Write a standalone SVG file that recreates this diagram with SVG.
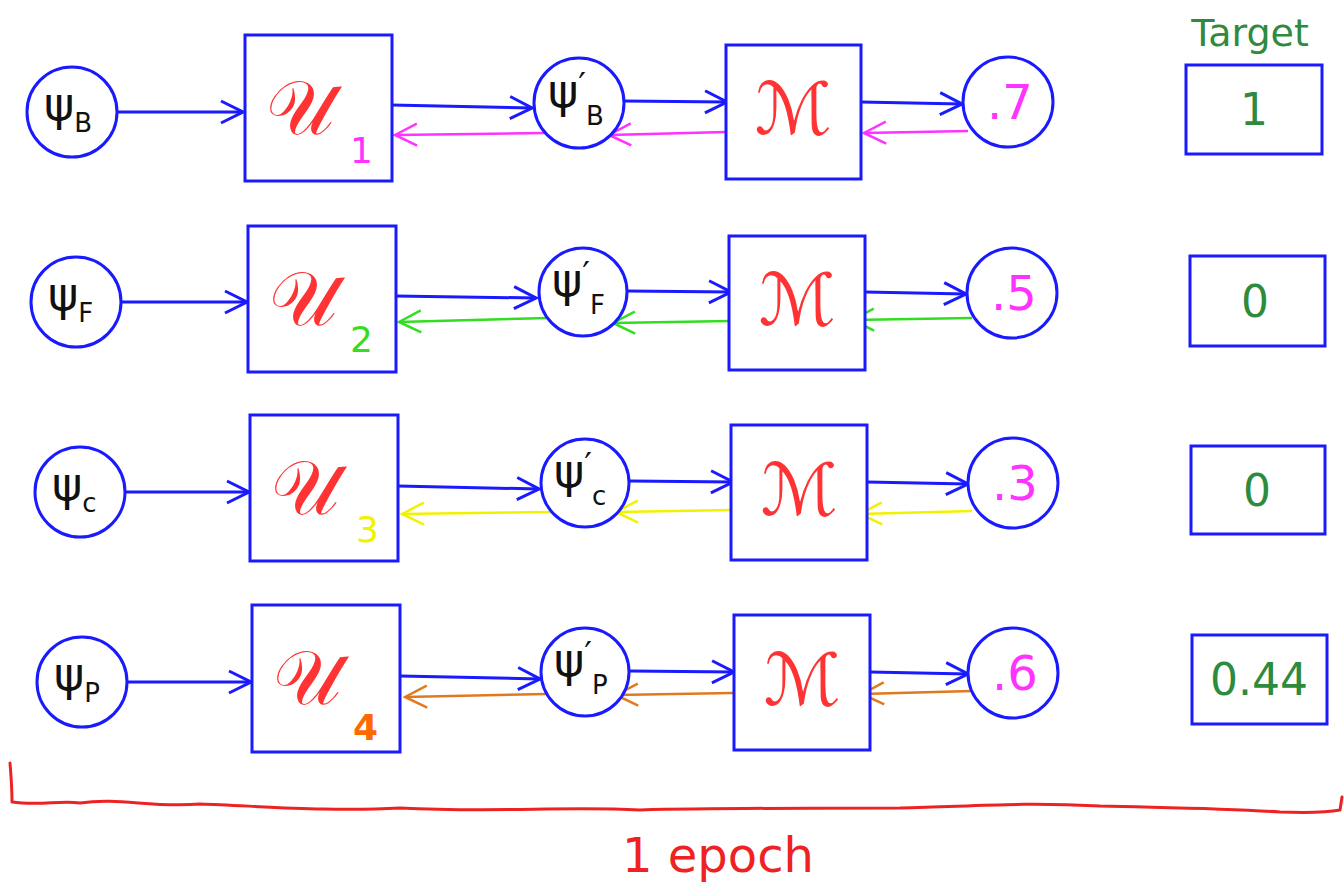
<svg xmlns="http://www.w3.org/2000/svg" width="1344" height="887" viewBox="0 0 1344 887">
<defs>
<style>
.node{fill:#fff;stroke:#1a1aff;stroke-width:3}
.tbox{fill:#fff;stroke:#1a1aff;stroke-width:3}
.psi{font-family:"DejaVu Sans",sans-serif;font-size:46px;fill:#111}
.sub{font-size:26px}
.pr{font-size:34px}
.U{font-family:"DejaVu Serif","DejaVu Sans",serif;font-size:76px;fill:#ff3333}
.M{font-family:"DejaVu Sans",serif;font-size:72px;fill:#ff3333;font-style:italic}
.idx{font-family:"DejaVu Sans",sans-serif;font-size:36px}
.val{font-family:"DejaVu Sans",sans-serif;font-size:48px;fill:#ff33ff}
.tgt{font-family:"DejaVu Sans",sans-serif;font-size:44px;fill:#2e8b3e}
.fw{fill:none;stroke:#1a1aff;stroke-width:3}
.bw{fill:none;stroke-width:2.5}
</style>
<marker id="hb" viewBox="0 0 26 26" markerWidth="26" markerHeight="26" refX="24" refY="13" orient="auto" markerUnits="userSpaceOnUse"><path d="M2,2 L24,13 L2,24" fill="none" stroke="#1a1aff" stroke-width="3"/></marker>
<marker id="hm" viewBox="0 0 26 26" markerWidth="26" markerHeight="26" refX="24" refY="13" orient="auto" markerUnits="userSpaceOnUse"><path d="M2,2 L24,13 L2,24" fill="none" stroke="#ff33ff" stroke-width="2.5"/></marker>
<marker id="hg" viewBox="0 0 26 26" markerWidth="26" markerHeight="26" refX="24" refY="13" orient="auto" markerUnits="userSpaceOnUse"><path d="M2,2 L24,13 L2,24" fill="none" stroke="#33dd22" stroke-width="2.5"/></marker>
<marker id="hy" viewBox="0 0 26 26" markerWidth="26" markerHeight="26" refX="24" refY="13" orient="auto" markerUnits="userSpaceOnUse"><path d="M2,2 L24,13 L2,24" fill="none" stroke="#f2f200" stroke-width="2.5"/></marker>
<marker id="ho" viewBox="0 0 26 26" markerWidth="26" markerHeight="26" refX="24" refY="13" orient="auto" markerUnits="userSpaceOnUse"><path d="M2,2 L24,13 L2,24" fill="none" stroke="#e07a1f" stroke-width="2.5"/></marker>
</defs>
<rect width="1344" height="887" fill="#fff"/>

<g id="connectors">
<path class="fw" marker-end="url(#hb)" d="M117,112 L243,112"/>
<path class="fw" marker-end="url(#hb)" d="M391,105 L532,108"/>
<path class="fw" marker-end="url(#hb)" d="M623,101 L727,102"/>
<path class="fw" marker-end="url(#hb)" d="M861,102 L962,104"/>
<path class="bw" stroke="#ff33ff" marker-end="url(#hm)" d="M545,133 L395,135"/>
<path class="bw" stroke="#ff33ff" marker-end="url(#hm)" d="M726,132 L609,135"/>
<path class="bw" stroke="#ff33ff" marker-end="url(#hm)" d="M968,131 L864,133"/>
<path class="fw" marker-end="url(#hb)" d="M121,302 L247,302"/>
<path class="fw" marker-end="url(#hb)" d="M395,296 L536,298"/>
<path class="fw" marker-end="url(#hb)" d="M627,291 L731,292"/>
<path class="fw" marker-end="url(#hb)" d="M865,292 L966,294"/>
<path class="bw" stroke="#33dd22" marker-end="url(#hg)" d="M549,318 L399,322"/>
<path class="bw" stroke="#33dd22" marker-end="url(#hg)" d="M730,321 L613,323"/>
<path class="bw" stroke="#33dd22" marker-end="url(#hg)" d="M972,318 L852,320"/>
<path class="fw" marker-end="url(#hb)" d="M125,492 L249,492"/>
<path class="fw" marker-end="url(#hb)" d="M398,486 L539,489"/>
<path class="fw" marker-end="url(#hb)" d="M630,481 L733,482"/>
<path class="fw" marker-end="url(#hb)" d="M867,482 L968,484"/>
<path class="bw" stroke="#f2f200" marker-end="url(#hy)" d="M552,512 L402,514"/>
<path class="bw" stroke="#f2f200" marker-end="url(#hy)" d="M733,510 L616,512"/>
<path class="bw" stroke="#f2f200" marker-end="url(#hy)" d="M972,511 L860,514"/>
<path class="fw" marker-end="url(#hb)" d="M127,682 L251,682"/>
<path class="fw" marker-end="url(#hb)" d="M400,676 L540,679"/>
<path class="fw" marker-end="url(#hb)" d="M630,671 L734,672"/>
<path class="fw" marker-end="url(#hb)" d="M870,672 L968,674"/>
<path class="bw" stroke="#e07a1f" marker-end="url(#ho)" d="M547,694 L405,697"/>
<path class="bw" stroke="#e07a1f" marker-end="url(#ho)" d="M733,693 L616,695"/>
<path class="bw" stroke="#e07a1f" marker-end="url(#ho)" d="M972,691 L862,694"/>
</g>

<g id="psiB"><circle class="node" cx="72" cy="112" r="45"/><text class="psi" x="44" y="120">ψ<tspan class="sub" dy="12">B</tspan></text></g>
<g id="U1"><rect class="node" x="245" y="35" width="147" height="146"/><text class="U" x="266" y="134">𝒰</text><text class="idx" x="350" y="163" fill="#ff33ff">1</text></g>
<g id="psiB2"><circle class="node" cx="579" cy="103" r="45"/><text class="psi" x="548" y="107">ψ<tspan class="pr" dy="-10">′</tspan><tspan class="sub" dy="28">B</tspan></text></g>
<g id="M1"><rect class="node" x="726" y="45" width="135" height="134"/><text class="M" x="793" y="134" text-anchor="middle">ℳ</text></g>
<g id="out1"><circle class="node" cx="1008" cy="102" r="45"/><text class="val" x="1010" y="119" text-anchor="middle">.7</text></g>
<g id="T1"><rect class="tbox" x="1186" y="65" width="136" height="89"/><text class="tgt" x="1254" y="125" text-anchor="middle">1</text></g>
<text x="1250" y="46" font-family="DejaVu Sans, sans-serif" font-size="38" fill="#2e8b3e" text-anchor="middle">Target</text>

<g id="psiF"><circle class="node" cx="76" cy="302" r="45"/><text class="psi" x="48" y="310">ψ<tspan class="sub" dy="12">F</tspan></text></g>
<g id="U2"><rect class="node" x="248" y="226" width="148" height="146"/><text class="U" x="269" y="325">𝒰</text><text class="idx" x="350" y="352" fill="#33dd22">2</text></g>
<g id="psiF2"><circle class="node" cx="583" cy="292" r="44"/><text class="psi" x="552" y="296">ψ<tspan class="pr" dy="-10">′</tspan><tspan class="sub" dy="28">F</tspan></text></g>
<g id="M2"><rect class="node" x="729" y="236" width="136" height="134"/><text class="M" x="797" y="325" text-anchor="middle">ℳ</text></g>
<g id="out2"><circle class="node" cx="1012" cy="293" r="45"/><text class="val" x="1014" y="310" text-anchor="middle">.5</text></g>
<g id="T2"><rect class="tbox" x="1190" y="256" width="135" height="90"/><text class="tgt" x="1255" y="317" text-anchor="middle">0</text></g>

<g id="psiC"><circle class="node" cx="80" cy="492" r="45"/><text class="psi" x="52" y="500">ψ<tspan class="sub" dy="12">c</tspan></text></g>
<g id="U3"><rect class="node" x="250" y="415" width="148" height="146"/><text class="U" x="271" y="514">𝒰</text><text class="idx" x="356" y="542" fill="#f2f200">3</text></g>
<g id="psiC2"><circle class="node" cx="585" cy="483" r="44"/><text class="psi" x="554" y="487">ψ<tspan class="pr" dy="-10">′</tspan><tspan class="sub" dy="28">c</tspan></text></g>
<g id="M3"><rect class="node" x="731" y="425" width="136" height="135"/><text class="M" x="799" y="515" text-anchor="middle">ℳ</text></g>
<g id="out3"><circle class="node" cx="1013" cy="483" r="45"/><text class="val" x="1015" y="500" text-anchor="middle">.3</text></g>
<g id="T3"><rect class="tbox" x="1191" y="446" width="134" height="88"/><text class="tgt" x="1257" y="506" text-anchor="middle">0</text></g>

<g id="psiP"><circle class="node" cx="82" cy="682" r="45"/><text class="psi" x="54" y="690">ψ<tspan class="sub" dy="12">P</tspan></text></g>
<g id="U4"><rect class="node" x="252" y="605" width="148" height="147"/><text class="U" x="273" y="704">𝒰</text><text class="idx" x="353" y="740" fill="#ff6a00" font-weight="bold">4</text></g>
<g id="psiP2"><circle class="node" cx="585" cy="672" r="44"/><text class="psi" x="554" y="676">ψ<tspan class="pr" dy="-10">′</tspan><tspan class="sub" dy="28">P</tspan></text></g>
<g id="M4"><rect class="node" x="734" y="615" width="136" height="135"/><text class="M" x="802" y="705" text-anchor="middle">ℳ</text></g>
<g id="out4"><circle class="node" cx="1013" cy="673" r="45"/><text class="val" x="1015" y="690" text-anchor="middle">.6</text></g>
<g id="T4"><rect class="tbox" x="1192" y="635" width="135" height="89"/><text class="tgt" x="1259" y="695" text-anchor="middle">0.44</text></g>

<g id="epoch">
<path d="M10,763 C11,775 12,790 12,802 C40,806 60,800 80,803 C120,797 150,808 200,804 C260,806 330,812 400,808 C500,813 560,806 640,810 C720,808 800,808 900,808 C980,806 1020,802 1100,806 C1180,808 1220,808 1280,812 C1310,813 1330,812 1340,810 L1342,797" fill="none" stroke="#ee2222" stroke-width="3" stroke-linecap="round" stroke-linejoin="round"/>
<text x="718" y="872" font-family="DejaVu Sans, sans-serif" font-size="48" fill="#ee2222" text-anchor="middle">1 epoch</text>
</g>
</svg>
